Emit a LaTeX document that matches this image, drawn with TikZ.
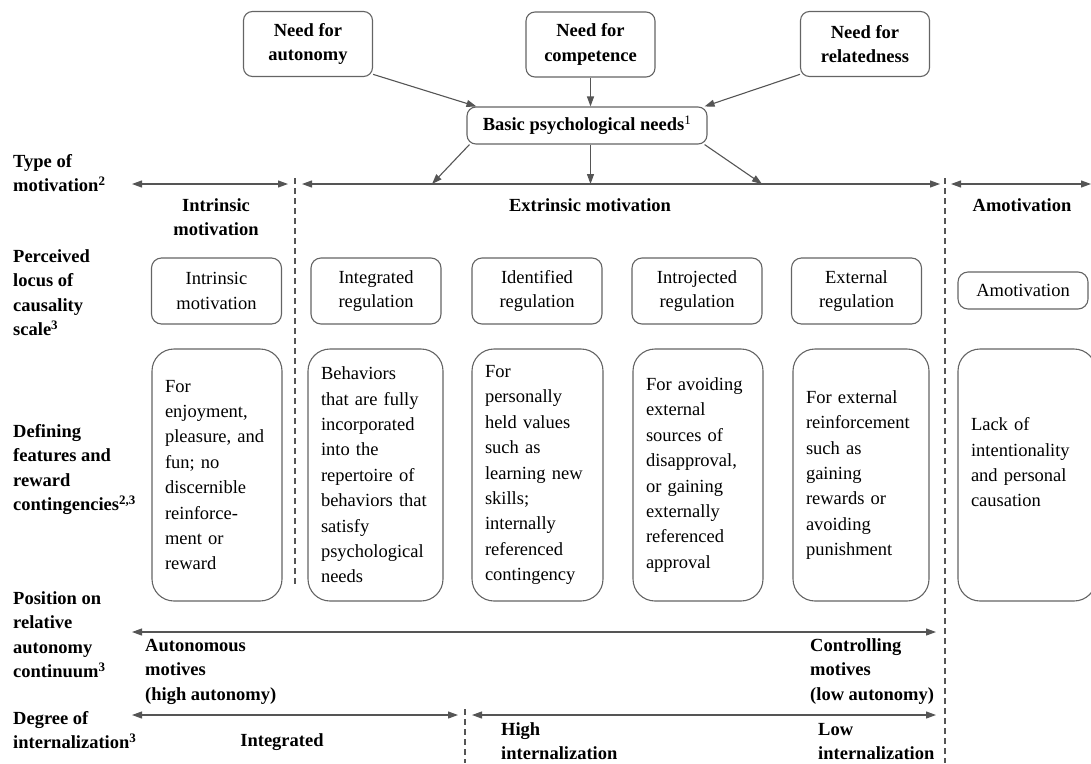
\documentclass[tikz,border=0pt]{standalone}
\usepackage{fontspec}
\setmainfont{Liberation Serif}
\usetikzlibrary{arrows.meta, positioning, calc}
\definecolor{linegray}{RGB}{85,85,85}
\definecolor{boxgray}{RGB}{100,100,100}
\newcommand{\diagfont}{\fontsize{18.5}{24.5}\selectfont}

\begin{document}
\begin{tikzpicture}[
    x=1pt, y=-1pt,
    needbox/.style={draw=boxgray, line width=1.1pt, rounded corners=9pt, align=center, font=\diagfont\bfseries, minimum width=129pt, minimum height=65pt, inner sep=2pt},
    locusbox/.style={draw=boxgray, line width=1.1pt, rounded corners=10pt, align=center, font=\diagfont, minimum width=130pt, minimum height=66pt, inner sep=2pt},
    featbox/.style={draw=boxgray, line width=1.1pt, rounded corners=22pt, align=left, font=\fontsize{18.5}{25.4}\selectfont, minimum height=252pt, inner xsep=13pt, inner ysep=0pt},
    rowlabel/.style={anchor=base west, align=left, inner sep=0pt, font=\diagfont\bfseries},
    headlabel/.style={align=center, inner sep=0pt, font=\diagfont\bfseries},
    arrow/.style={-{Triangle[length=10pt,width=7pt]}, draw=linegray, line width=1.1pt},
    biarrow/.style={{Triangle[length=10pt,width=7pt]}-{Triangle[length=10pt,width=7pt]}, draw=linegray, line width=1.1pt},
    divider/.style={draw=linegray, line width=1.1pt, dash pattern=on 6pt off 4pt}
]
\useasboundingbox (0,0) rectangle (1091,763);

% Needs
\node[needbox] (aut) at (308, 44) {Need for\\autonomy};
\node[needbox] (comp) at (590.5, 44.5) {Need for\\competence};
\node[needbox] (rel) at (865, 44) {Need for\\relatedness};
\node[needbox, minimum width=240pt, minimum height=37pt] (basic) at (587, 125.5) {Basic psychological needs\textsuperscript{\mdseries 1}};

\draw[arrow] (aut.-25) -- ([xshift=10pt]basic.north west);
\draw[arrow] (comp.south) -- (comp.south |- basic.north);
\draw[arrow] (rel.205) -- ([xshift=-3pt]basic.north east);

% Type of motivation
\coordinate (m1) at (432, 184);
\coordinate (m2) at (590.5, 184);
\coordinate (m3) at (762, 184);
\draw[arrow] ([xshift=3pt]basic.south west) -- (m1);
\draw[arrow] (basic.south -| comp) -- (m2);
\draw[arrow] ([xshift=-3pt]basic.south east) -- (m3);

\draw[biarrow] (132, 184) -- (288, 184);
\draw[biarrow] (302, 184) -- (940, 184);
\draw[biarrow] (951, 184) -- (1091, 184);
\draw[divider] (295, 178) -- (295, 585);
\draw[divider] (945, 178) -- (945, 763);

\node[headlabel] (intr) at (216, 217) {Intrinsic\\motivation};
\node[headlabel] (extr) at (590, 205) {Extrinsic motivation};
\node[headlabel] (amot) at (1022, 205) {Amotivation};

% Row labels (anchored on the baseline of their last line)
\node[rowlabel] (lab1) at (13, 191.5) {Type of\\motivation\textsuperscript{2}};
\node[rowlabel] (lab2) at (13, 335.5) {Perceived\\locus of\\causality\\scale\textsuperscript{3}};
\node[rowlabel] (lab3) at (13, 510.5) {Defining\\features and\\reward\\contingencies\textsuperscript{2,3}};
\node[rowlabel] (lab4) at (13, 677.5) {Position on\\relative\\autonomy\\continuum\textsuperscript{3}};
\node[rowlabel] (lab5) at (13, 748.5) {Degree of\\internalization\textsuperscript{3}};

% Perceived locus of causality
\foreach \x/\n/\t in {216.5/l1/{Intrinsic\\motivation}, 376/l2/{Integrated\\regulation}, 537/l3/{Identified\\regulation}, 697/l4/{Introjected\\regulation}, 856.5/l5/{External\\regulation}} {
    \node[locusbox] (\n) at (\x, 291) {\t};
}
\node[locusbox, minimum height=37pt] (l6) at (1023, 290.5) {Amotivation};

% Defining features
\foreach \x/\w/\n/\t in {
    217/104/f1/{For\\enjoyment,\\pleasure, and\\fun; no\\discernible\\reinforce-\\ment or\\reward},
    375.5/109/f2/{Behaviors\\that are fully\\incorporated\\into the\\repertoire of\\behaviors that\\satisfy\\psychological\\needs},
    537.5/105/f3/{For\\personally\\held values\\such as\\learning new\\skills;\\internally\\referenced\\contingency},
    698/104/f4/{For avoiding\\external\\sources of\\disapproval,\\or gaining\\externally\\referenced\\approval},
    861/110/f5/{For external\\reinforcement\\such as\\gaining\\rewards or\\avoiding\\punishment},
    1027/112/f6/{Lack of\\intentionality\\and personal\\causation\\\mbox{}}} {
    \node[featbox, text width=\w pt] (\n) at (\x, 475) {\t};
}

% Relative autonomy continuum
\draw[biarrow] (132, 632) -- (936, 632);
\node[rowlabel] (auto) at (145, 700) {Autonomous\\motives\\(high autonomy)};
\node[rowlabel] (ctrl) at (810, 700) {Controlling\\motives\\(low autonomy)};

% Degree of internalization
\draw[biarrow] (132, 715) -- (458, 715);
\draw[biarrow] (472, 715) -- (936, 715);
\draw[divider] (465, 709) -- (465, 763);
\node[headlabel] (integ) at (282, 742) {Integrated};
\node[rowlabel] (high) at (501, 759.5) {High\\internalization};
\node[rowlabel] (low) at (818, 759.5) {Low\\internalization};

\end{tikzpicture}
\end{document}
